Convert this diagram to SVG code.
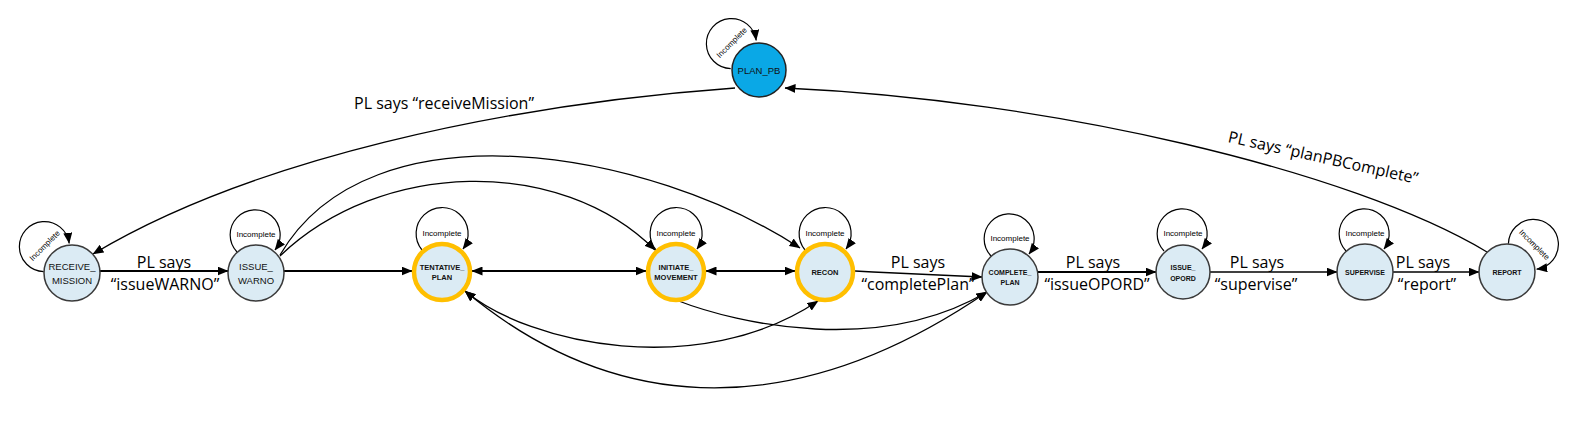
<svg xmlns="http://www.w3.org/2000/svg" width="1580" height="435" viewBox="0 0 1580 435">
<defs>
<marker id="ah" viewBox="0 0 11 9" refX="10.5" refY="4.5" markerWidth="11" markerHeight="9" markerUnits="userSpaceOnUse" orient="auto-start-reverse">
<path d="M0,0 L11,4.5 L0,9 Z" fill="#000"/>
</marker>
<style>
.c{fill:none;stroke:#000;stroke-width:1.3;marker-end:url(#ah)}
.t{stroke-width:2}
.both{marker-start:url(#ah)}
.loop{fill:none;stroke:#000;stroke-width:1.2;marker-end:url(#ah)}
.lt{font-family:"Liberation Sans",Arial,sans-serif;font-size:8px;text-anchor:middle;fill:#000}
.el{font-family:"Open Sans","Liberation Sans",sans-serif;font-size:16px;text-anchor:middle;fill:#000}
.n{fill:#dbebf4;stroke:#3a3a3a;stroke-width:1.5}
.r{fill:#dbebf4;stroke:#ffbf00;stroke-width:4.5}
.pb{fill:#0aa8e6;stroke:#222;stroke-width:1.5}
.nl{font-family:"Liberation Sans",Arial,sans-serif;font-size:9.5px;text-anchor:middle;fill:#111}
.nb{font-family:"Liberation Sans",Arial,sans-serif;font-size:7.5px;font-weight:bold;text-anchor:middle;fill:#111}
.ns{font-family:"Liberation Sans",Arial,sans-serif;font-size:7px;font-weight:bold;text-anchor:middle;fill:#111}
</style>
</defs>
<rect width="1580" height="435" fill="#fff"/>
<g id="connectors">
  <path class="c t" d="M100,271 L228,271"/>
  <path class="c t" d="M284,271 L412,271"/>
  <path class="c t both" d="M472,271 L646,271"/>
  <path class="c t both" d="M706,271 L795,271"/>
  <path class="c" d="M855,271 L873,272 L982,277"/>
  <path class="c t" d="M1038,272 L1156,272"/>
  <path class="c" d="M1210,272 L1337,272"/>
  <path class="c" d="M1393,272 L1479,272"/>
  <path class="c" d="M735,88 C500,105 250,160 93,254"/>
  <path class="c" d="M1487,252 C1350,170 1050,100 785,88"/>
  <path class="c" d="M280,255 C370,100 650,150 800,248"/>
  <path class="c" d="M280,256 C380,160 560,155 655,250"/>
  <path class="c both" d="M465,291 C530,345 700,380 818,301"/>
  <path class="c both" d="M465,291 C620,420 800,420 987,292"/>
  <path class="c" d="M676,300 C740,325 880,355 987,292"/>
  <g transform="rotate(-45 72 273)"><path class="loop" d="M53,252 A25 25 0 1 1 91,250"/><text class="lt" x="72" y="237">Incomplete</text></g>
  <path class="loop" d="M237,252 A25 25 0 1 1 275,250"/><text class="lt" x="256" y="237">Incomplete</text>
  <path class="loop" d="M422,250 A26 26 0 1 1 463,249"/><text class="lt" x="442" y="236">Incomplete</text>
  <path class="loop" d="M656,250 A26 26 0 1 1 697,249"/><text class="lt" x="676" y="236">Incomplete</text>
  <path class="loop" d="M805,250 A26 26 0 1 1 846,249"/><text class="lt" x="825" y="236">Incomplete</text>
  <path class="loop" d="M991,256 A25 25 0 1 1 1029,254"/><text class="lt" x="1010" y="241">Incomplete</text>
  <path class="loop" d="M1164,251 A25 25 0 1 1 1202,249"/><text class="lt" x="1183" y="236">Incomplete</text>
  <path class="loop" d="M1346,251 A25 25 0 1 1 1384,249"/><text class="lt" x="1365" y="236">Incomplete</text>
  <g transform="rotate(45 1507 272)"><path class="loop" d="M1488,251 A25 25 0 1 1 1526,249"/><text class="lt" x="1507" y="236">Incomplete</text></g>
  <g transform="rotate(-45 759 70)"><path class="loop" d="M740,49 A25 25 0 1 1 778,47"/><text class="lt" x="759" y="34">Incomplete</text></g>
  <text class="el" x="164" y="268">PL says</text>
  <text class="el" x="165" y="290">“issueWARNO”</text>
  <text class="el" x="918" y="268">PL says</text>
  <text class="el" x="918" y="290">“completePlan”</text>
  <text class="el" x="1093" y="268">PL says</text>
  <text class="el" x="1097" y="290">“issueOPORD”</text>
  <text class="el" x="1257" y="268">PL says</text>
  <text class="el" x="1256" y="290">“supervise”</text>
  <text class="el" x="1423" y="268">PL says</text>
  <text class="el" x="1427" y="290">“report”</text>
  <text class="el" x="444" y="109">PL says “receiveMission”</text>
  <text class="el" transform="translate(1322 163) rotate(12.5)">PL says “planPBComplete”</text>
</g>
<g id="node-plan-pb"><circle class="pb" cx="759" cy="70" r="27"/><text class="nl" x="759" y="74" font-size="10">PLAN_PB</text></g>
<g id="node-receive-mission"><circle class="n" cx="72" cy="273" r="28"/><text class="nl" x="72" y="270">RECEIVE_</text><text class="nl" x="72" y="283.5">MISSION</text></g>
<g id="node-issue-warno"><circle class="n" cx="256" cy="273" r="28"/><text class="nl" x="256" y="270">ISSUE_</text><text class="nl" x="256" y="283.5">WARNO</text></g>
<g id="node-tentative-plan"><circle class="r" cx="442" cy="272" r="28"/><text class="nb" x="442" y="269.5">TENTATIVE_</text><text class="nb" x="442" y="280">PLAN</text></g>
<g id="node-initiate-movement"><circle class="r" cx="676" cy="272" r="28"/><text class="nb" x="676" y="269.5">INITIATE_</text><text class="nb" x="676" y="280">MOVEMENT</text></g>
<g id="node-recon"><circle class="r" cx="825" cy="272" r="28"/><text class="nb" x="825" y="274.5">RECON</text></g>
<g id="node-complete-plan"><circle class="n" cx="1010" cy="277" r="28"/><text class="ns" x="1010" y="274.5">COMPLETE_</text><text class="ns" x="1010" y="285">PLAN</text></g>
<g id="node-issue-opord"><circle class="n" cx="1183" cy="272" r="27"/><text class="ns" x="1183" y="270">ISSUE_</text><text class="ns" x="1183" y="281">OPORD</text></g>
<g id="node-supervise"><circle class="n" cx="1365" cy="272" r="28"/><text class="ns" x="1365" y="274.5">SUPERVISE</text></g>
<g id="node-report"><circle class="n" cx="1507" cy="272" r="28"/><text class="ns" x="1507" y="274.5">REPORT</text></g>
</svg>
